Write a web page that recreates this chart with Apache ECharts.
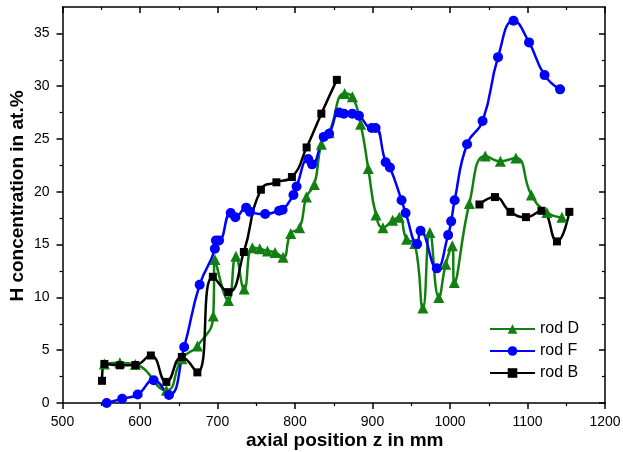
<!DOCTYPE html>
<html>
<head>
<meta charset="utf-8">
<script src="https://cdn.jsdelivr.net/npm/echarts@6/dist/echarts.min.js"></script>
<style>html,body{margin:0;padding:0;background:#fff}#c{width:623px;height:452px}</style>
</head>
<body>
<div id="c"></div>
<script>
// axial position (mm) and H concentration (at.%)
var rodD_z = [554,574,594,634,654,674,694.5,696.6,714,723.7,734.4,745,754.6,764.5,774.3,784.6,794.5,806,814.7,825,834,844,864,874,884.7,894.5,904.5,913.5,926,934.5,944,954.5,965,974,985.6,994.5,1003,1005.5,1025,1045.5,1065,1085,1105,1125,1144.4];
var rodD_h = [3.7,3.8,3.65,1.2,4.2,5.4,8.25,13.6,9.7,13.9,10.8,14.7,14.6,14.4,14.26,13.8,16.06,16.6,19.5,20.7,24.5,25.6,29.3,29.0,26.4,22.2,17.8,16.6,17.3,17.6,15.5,15.1,9.0,16.15,10.0,13.15,14.9,11.4,18.9,23.4,22.9,23.2,19.7,18.05,17.6];

var rodF_z = [557,577,597,617.6,637.4,657,677,696.6,698,702,717,723,737,742,761.5,779.5,784,798,802,817,822,837,844,857,863,874,882.5,899,904,917,922.5,937.5,942.7,957.6,962,983,997.6,1001.5,1006,1022,1042,1062,1082,1102,1122,1142];
var rodF_h = [0,0.4,0.8,2.15,0.76,5.3,11.2,14.6,15.4,15.4,18.0,17.6,18.5,18.1,17.9,18.2,18.3,19.7,20.5,23.1,22.6,25.2,25.5,27.5,27.4,27.4,27.2,26.05,26.05,22.8,22.3,19.2,18.0,15.05,16.3,12.75,15.9,17.2,19.2,24.5,26.7,32.75,36.2,34.15,31.05,29.7];

var rodB_z = [551,554,574,594,614,634,654,674,694,714,734,756,776,796,815,834,854,null,1038,1058,1078,1098,1118,1138,1154];
var rodB_h = [2.1,3.7,3.57,3.6,4.5,2.0,4.36,2.9,11.95,10.5,14.3,20.2,20.9,21.4,24.2,27.4,30.6,null,18.8,19.5,18.1,17.6,18.2,15.3,18.1];

var xTicks = [500,600,700,800,900,1000,1100,1200];
var yTicks = [0,5,10,15,20,25,30,35];

function pairs(z, h) {
  return z.map(function (v, i) { return v === null ? ['-', '-'] : [v, h[i]]; });
}

var chart = echarts.init(document.getElementById('c'), null, {renderer: 'canvas'});
var fam = 'Liberation Sans, Arial, sans-serif';
var lineStyleAxis = {color: '#000', width: 1.5};

function xAxisCfg(main) {
  return {
    type: 'value', min: 500, max: 1200, interval: 100,
    position: main ? 'bottom' : 'top',
    name: main ? 'axial position z in mm' : '',
    nameLocation: 'middle', nameGap: 28, nameMoveOverlap: false,
    nameTextStyle: {fontFamily: fam, fontSize: 19, fontWeight: 'bold', color: '#000', padding: [0, 0, 0, 22]},
    axisLine: {show: true, onZero: false, lineStyle: lineStyleAxis},
    axisTick: {show: true, inside: !main, length: 6, lineStyle: lineStyleAxis},
    minorTick: {show: true, splitNumber: 2, length: 3, lineStyle: {color: '#000', width: 1.2}},
    axisLabel: {show: main, margin: 12, fontFamily: fam, fontSize: 14, color: '#000',
      customValues: xTicks, formatter: function (v) { return String(v); }},
    splitLine: {show: false}
  };
}
function yAxisCfg(main) {
  return {
    type: 'value', min: 0, max: 37.5, interval: 5,
    position: main ? 'left' : 'right',
    name: main ? 'H concentration in at.%' : '',
    nameLocation: 'middle', nameGap: 35, nameRotate: 90, nameMoveOverlap: false,
    nameTextStyle: {fontFamily: fam, fontSize: 19, fontWeight: 'bold', color: '#000', padding: [0, 0, 0, 18]},
    axisLine: {show: true, onZero: false, lineStyle: lineStyleAxis},
    axisTick: {show: true, inside: !main, length: 6, lineStyle: lineStyleAxis, customValues: yTicks},
    minorTick: {show: true, splitNumber: 2, length: 3, lineStyle: {color: '#000', width: 1.2}},
    axisLabel: {show: main, margin: 13, fontFamily: fam, fontSize: 14, color: '#000',
      customValues: yTicks, formatter: function (v) { return String(v); }},
    splitLine: {show: false}
  };
}

function lineSeries(name, data, color, symbol, size) {
  return {
    name: name, type: 'line', data: data, smooth: 0.5,
    connectNulls: false,
    symbol: symbol, symbolSize: size, showAllSymbol: true,
    lineStyle: {color: color, width: 2.5},
    itemStyle: {color: color},
    emphasis: {disabled: true},
    animation: false
  };
}

chart.setOption({
  backgroundColor: '#fff',
  animation: false,
  grid: {left: 62.5, right: 18, top: 7, bottom: 49, containLabel: false, outerBoundsMode: 'none'},
  xAxis: [xAxisCfg(true), xAxisCfg(false)],
  yAxis: [yAxisCfg(true), yAxisCfg(false)],
  legend: {
    orient: 'vertical', left: 484, top: 316, itemGap: 6,
    itemWidth: 45, itemHeight: 12,
    textStyle: {fontFamily: fam, fontSize: 16, color: '#000'},
    data: ['rod D', 'rod F', 'rod B']
  },
  series: [
    lineSeries('rod D', pairs(rodD_z, rodD_h), '#118011', 'triangle', 11),
    lineSeries('rod F', pairs(rodF_z, rodF_h), '#0000ff', 'circle', 10),
    lineSeries('rod B', pairs(rodB_z, rodB_h), '#000000', 'rect', 8)
  ]
});
</script>
</body>
</html>
